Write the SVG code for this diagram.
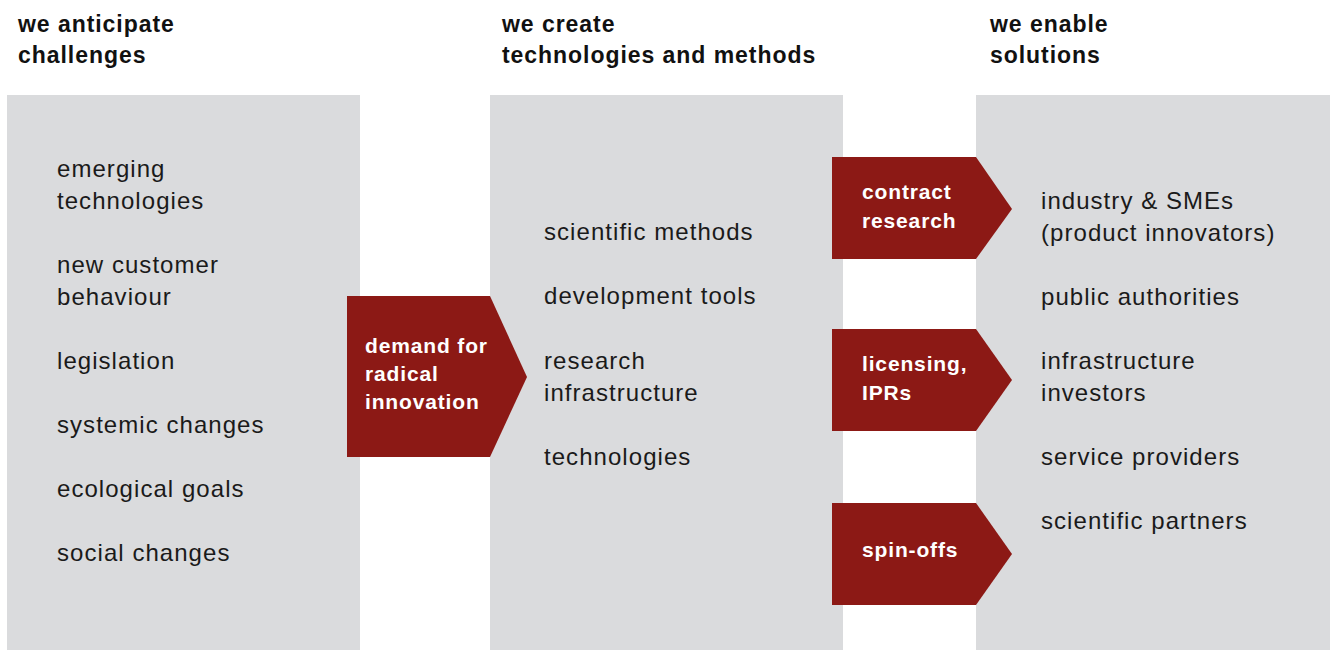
<svg xmlns="http://www.w3.org/2000/svg" width="1330" height="650" viewBox="0 0 1330 650">
<style>
.panel{fill:#dadbdd}
.arrow{fill:#8c1915}
.title{font-family:"Liberation Sans",Arial,sans-serif;font-weight:bold;font-size:23px;fill:#111;letter-spacing:0.95px}
.item{font-family:"Liberation Sans",Arial,sans-serif;font-size:24px;fill:#1a1a1a;letter-spacing:1.05px}
.lbl{font-family:"Liberation Sans",Arial,sans-serif;font-weight:bold;font-size:21px;fill:#fff;letter-spacing:0.85px}
</style>
<rect width="1330" height="650" fill="#fff"/>
<g id="col1">
<rect class="panel" x="7" y="95" width="353" height="555"/>
<text class="title" x="18" y="32">we anticipate</text>
<text class="title" x="18" y="63">challenges</text>
<text class="item" x="57" y="177">emerging</text>
<text class="item" x="57" y="209">technologies</text>
<text class="item" x="57" y="273">new customer</text>
<text class="item" x="57" y="305">behaviour</text>
<text class="item" x="57" y="369">legislation</text>
<text class="item" x="57" y="433">systemic changes</text>
<text class="item" x="57" y="497">ecological goals</text>
<text class="item" x="57" y="561">social changes</text>
</g>
<g id="col2">
<rect class="panel" x="490" y="95" width="353" height="555"/>
<text class="title" x="502" y="32">we create</text>
<text class="title" x="502" y="63">technologies and methods</text>
<text class="item" x="544" y="240">scientific methods</text>
<text class="item" x="544" y="304">development tools</text>
<text class="item" x="544" y="369">research</text>
<text class="item" x="544" y="401">infrastructure</text>
<text class="item" x="544" y="465">technologies</text>
</g>
<g id="col3">
<rect class="panel" x="976" y="95" width="354" height="555"/>
<text class="title" x="990" y="32">we enable</text>
<text class="title" x="990" y="63">solutions</text>
<text class="item" x="1041" y="209">industry &amp; SMEs</text>
<text class="item" x="1041" y="241">(product innovators)</text>
<text class="item" x="1041" y="305">public authorities</text>
<text class="item" x="1041" y="369">infrastructure</text>
<text class="item" x="1041" y="401">investors</text>
<text class="item" x="1041" y="465">service providers</text>
<text class="item" x="1041" y="529">scientific partners</text>
</g>
<g id="connectors">
<g id="demand">
<polygon class="arrow" points="347,296 490,296 527,377 490,457 347,457"/>
<text class="lbl" x="365" y="353">demand for</text>
<text class="lbl" x="365" y="381">radical</text>
<text class="lbl" x="365" y="409">innovation</text>
</g>
<g id="contract">
<polygon class="arrow" points="832,157 976,157 1012,209 976,259 832,259"/>
<text class="lbl" x="862" y="199">contract</text>
<text class="lbl" x="862" y="228">research</text>
</g>
<g id="licensing">
<polygon class="arrow" points="832,329 976,329 1012,380 976,431 832,431"/>
<text class="lbl" x="862" y="371">licensing,</text>
<text class="lbl" x="862" y="400">IPRs</text>
</g>
<g id="spinoffs">
<polygon class="arrow" points="832,503 976,503 1012,554 976,605 832,605"/>
<text class="lbl" x="862" y="557">spin-offs</text>
</g>
</g>
</svg>
